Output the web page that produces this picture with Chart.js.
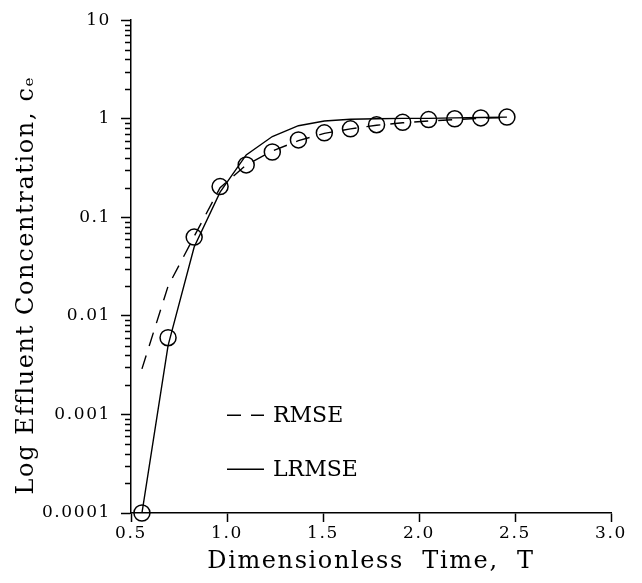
<!DOCTYPE html>
<html>
<head>
<meta charset="utf-8">
<script src="https://cdn.jsdelivr.net/npm/chart.js@4/dist/chart.umd.min.js"></script>
<style>
  html, body { margin: 0; padding: 0; background: #fff; }
  #wrap { width: 642px; height: 583px; }
</style>
</head>
<body>
<div id="wrap"><canvas id="c" width="642" height="583"></canvas></div>
<script>
// ---- Data ----
const timeT = [0.557, 0.693, 0.829, 0.964, 1.100, 1.236, 1.372, 1.507, 1.643, 1.779, 1.915, 2.050, 2.186, 2.322, 2.458];
const observed = [0.0001, 0.006, 0.063, 0.205, 0.34, 0.46, 0.61, 0.72, 0.79, 0.87, 0.92, 0.98, 1.0, 1.02, 1.04];
const rmseFit = [0.0029, 0.020, 0.064, 0.20, 0.34, 0.47, 0.60, 0.71, 0.79, 0.86, 0.91, 0.95, 0.98, 1.01, 1.03];
const lrmseFit = [0.0001, 0.005, 0.050, 0.18, 0.43, 0.66, 0.85, 0.95, 0.99, 1.00, 1.01, 1.01, 1.02, 1.03, 1.04];
const seriesNames = ['Data', 'RMSE', 'LRMSE'];
const xTickLabels = ['0.5', '1.0', '1.5', '2.0', '2.5', '3.0'];
const yTickLabels = ['0.0001', '0.001', '0.01', '0.1', '1', '10'];
const xTitle = 'Dimensionless  Time,  T';
const yTitle = 'Log Effluent Concentration, c\u2091';

const toXY = (xs, ys) => xs.map((x, i) => ({ x: x, y: ys[i] }));
const FONT = "'DejaVu Serif', serif";

function isDecade(v) {
  const l = Math.log10(v);
  return Math.abs(l - Math.round(l)) < 1e-6;
}
function keepIntegerSignificands(scale) {
  scale.ticks = scale.ticks.filter(t => {
    const m = t.value / Math.pow(10, Math.floor(Math.log10(t.value) + 1e-9));
    return Math.abs(m - Math.round(m)) < 1e-6;
  });
}

// letter spacing for axis texts
const spacingPlugin = {
  id: 'spacing',
  beforeDraw(chart) { chart.ctx.letterSpacing = '1.6px'; },
  afterDatasetsDraw(chart) { chart.ctx.letterSpacing = '0px'; }
};

// short minor ticks of the log axis, placed with the scale's own mapping
const minorTicks = {
  id: 'minorTicks',
  afterDraw(chart, args, opts) {
    const s = chart.scales.y;
    const ctx = chart.ctx;
    const x1 = chart.chartArea.left;
    ctx.save();
    ctx.setLineDash([]);
    ctx.strokeStyle = '#000';
    ctx.lineWidth = opts.width;
    ctx.beginPath();
    s.ticks.forEach(t => {
      if (isDecade(t.value)) return;
      const y = Math.round(s.getPixelForValue(t.value)) + 0.5;
      ctx.moveTo(x1 - opts.length, y);
      ctx.lineTo(x1, y);
    });
    ctx.stroke();
    ctx.restore();
  }
};

// in-plot legend (line samples + labels)
const innerLegend = {
  id: 'innerLegend',
  afterDraw(chart, args, opts) {
    const ctx = chart.ctx;
    const area = chart.chartArea;
    ctx.save();
    ctx.letterSpacing = '0px';
    opts.items.forEach((it, k) => {
      const ds = chart.data.datasets[it.dataset];
      const y = area.top + opts.top + k * opts.rowGap;
      const x0 = area.left + opts.left;
      ctx.beginPath();
      ctx.setLineDash(ds.borderDash || []);
      ctx.lineWidth = ds.borderWidth;
      ctx.strokeStyle = ds.borderColor;
      ctx.moveTo(x0, y);
      ctx.lineTo(x0 + opts.sample, y);
      ctx.stroke();
      ctx.setLineDash([]);
      ctx.fillStyle = '#000';
      ctx.font = opts.font;
      ctx.textBaseline = 'middle';
      ctx.textAlign = 'left';
      ctx.fillText(ds.label, x0 + opts.sample + opts.gap, y + 1);
    });
    ctx.restore();
  }
};

new Chart(document.getElementById('c'), {
  type: 'scatter',
  data: {
    datasets: [
      { label: seriesNames[0], data: toXY(timeT, observed), showLine: false, pointStyle: 'circle',
        pointRadius: 8, pointHoverRadius: 8, pointBorderWidth: 1.5, pointBorderColor: '#000',
        pointBackgroundColor: 'rgba(0,0,0,0)', clip: false },
      { label: seriesNames[1], data: toXY(timeT, rmseFit), showLine: true, borderColor: '#000',
        borderWidth: 1.4, borderDash: [14, 10], pointRadius: 0, tension: 0, fill: false },
      { label: seriesNames[2], data: toXY(timeT, lrmseFit), showLine: true, borderColor: '#000',
        borderWidth: 1.4, pointRadius: 0, tension: 0, fill: false }
    ]
  },
  options: {
    responsive: false,
    devicePixelRatio: 1,
    animation: false,
    events: [],
    layout: { padding: { top: 18, right: 31, left: 0, bottom: 0 } },
    plugins: {
      legend: { display: false },
      tooltip: { enabled: false },
      minorTicks: { length: 6, width: 1.4 },
      innerLegend: {
        items: [{ dataset: 1 }, { dataset: 2 }],
        left: 96, top: 395, rowGap: 54, sample: 37, gap: 9,
        font: "22px " + FONT
      }
    },
    scales: {
      x: {
        type: 'linear', min: 0.5, max: 3.0,
        afterFit(scale) { scale.height = 70; },
        border: { display: true, color: '#000', width: 1.5 },
        grid: { display: true, drawOnChartArea: false, drawTicks: true, tickLength: 9, color: '#000', tickWidth: 1.5 },
        ticks: { stepSize: 0.5, color: '#000', padding: 1, maxRotation: 0,
          font: { family: FONT, size: 17 }, callback: (v, i) => xTickLabels[i] },
        title: { display: true, text: xTitle, color: '#000', font: { family: FONT, size: 24 },
          padding: { top: 0, bottom: 7 } }
      },
      y: {
        type: 'logarithmic', min: 0.0001, max: 10,
        afterFit(scale) { scale.width = 131; },
        afterBuildTicks: keepIntegerSignificands,
        border: { display: true, color: '#000', width: 1.5 },
        grid: { display: true, drawOnChartArea: false, drawTicks: true, tickLength: 10,
          color: '#000',
          tickColor: (c) => (c.tick && isDecade(c.tick.value)) ? '#000' : 'rgba(0,0,0,0)',
          tickWidth: 1.5 },
        ticks: { autoSkip: false, color: '#000', padding: 10, font: { family: FONT, size: 17 },
          callback: (v) => isDecade(v) ? yTickLabels[Math.round(Math.log10(v)) + 4] : '' },
        title: { display: true, text: yTitle + '\u00a0\u00a0\u00a0\u00a0', color: '#000',
          font: { family: FONT, size: 24 }, padding: { top: 12, bottom: 0 } }
      }
    }
  },
  plugins: [spacingPlugin, minorTicks, innerLegend]
});
</script>
</body>
</html>
